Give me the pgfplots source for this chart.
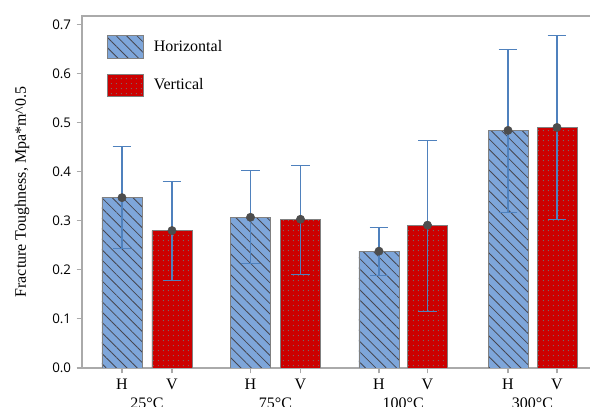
\documentclass[border=0pt,12pt]{standalone}
\usepackage{fontspec}
\setmainfont{Liberation Serif}
\newfontfamily\tickfont{Open Sans}
\usepackage{pgfplots}
\pgfplotsset{compat=1.18}
\usepackage{pgfplotstable}
\usetikzlibrary{patterns.meta}

\definecolor{hblue}{RGB}{126,166,218}
\definecolor{hatchgray}{RGB}{70,70,80}
\definecolor{vred}{RGB}{204,0,0}
\definecolor{dotgray}{RGB}{120,110,110}
\definecolor{errblue}{RGB}{79,129,189}
\definecolor{meangray}{RGB}{77,77,77}
\definecolor{axgray}{RGB}{170,170,170}
\definecolor{edgegray}{RGB}{128,128,128}

% mean, upper and lower error of each specimen orientation
\pgfplotstableread{
x    y     ep    em
0    0.347 0.105 0.104
2.57 0.307 0.096 0.094
5.14 0.238 0.049 0.050
7.72 0.484 0.165 0.168
}\Hdata
\pgfplotstableread{
x    y     ep    em
1    0.280 0.100 0.101
3.57 0.303 0.110 0.112
6.11 0.291 0.173 0.175
8.70 0.490 0.187 0.187
}\Vdata

\pgfplotsset{
  swatch/.style={legend image code/.code={\draw[##1] (0pt,-8.5pt) rectangle (27pt,8.5pt);}},
  errs/.style={error bars/.cd, y dir=both, y explicit,
    error bar style={errblue, line width=0.8pt},
    error mark options={rotate=90, errblue, mark size=7pt, line width=0.8pt}},
}

\begin{document}
\begin{tikzpicture}
\begin{axis}[
  at={(0,0)}, anchor=south west,
  scale only axis, width=388.5pt, height=264pt,
  xmin=-0.8, xmax=9.56, ymin=0, ymax=0.717,
  axis line style={axgray, line width=0.8pt},
  xtick pos=bottom, ytick pos=left, tick align=outside,
  major tick length=4pt,
  tick style={axgray, line width=0.8pt},
  xtick={0,1,2.57,3.57,5.14,6.11,7.72,8.70},
  xticklabels={H,V,H,V,H,V,H,V},
  xticklabel style={font=\fontsize{12}{14}\selectfont},
  extra x ticks={0.5,3.07,5.625,8.21},
  extra x tick labels={25°C,75°C,100°C,300°C},
  extra x tick style={major tick length=0pt, tick label style={yshift=-18pt}},
  ytick={0,0.1,0.2,0.3,0.4,0.5,0.6,0.7},
  yticklabel style={font=\tickfont\fontsize{10}{12}\selectfont,
    /pgf/number format/.cd, fixed, fixed zerofill, precision=1, assume math mode=true},
  every axis y label/.style={at={(rel axis cs:0,0.5)}, xshift=-45pt, rotate=90, anchor=center},
  ylabel={Fracture Toughness, Mpa*m\^{}0.5},
  ylabel style={font=\fontsize{12}{14}\selectfont},
  legend style={at={(0.0483,0.946)}, anchor=north west, draw=none, fill=none,
    inner sep=0pt, row sep=11.5pt, column sep=7.5pt,
    nodes={inner sep=0pt}, font=\fontsize{12}{14}\selectfont},
  legend cell align=left,
]
\addplot[ybar, bar width=0.8, bar shift=0pt, fill=hblue, draw=edgegray,
  postaction={pattern={Lines[angle=-45,distance=5.5pt,line width=0.6pt]}, pattern color=hatchgray},
  swatch, errs]
  table[x=x, y=y, y error plus=ep, y error minus=em] {\Hdata};
\addlegendentry{Horizontal}
\addplot[ybar, bar width=0.8, bar shift=0pt, fill=vred, draw=edgegray,
  postaction={pattern={Dots[distance=4pt,radius=0.5pt]}, pattern color=dotgray},
  swatch, errs]
  table[x=x, y=y, y error plus=ep, y error minus=em] {\Vdata};
\addlegendentry{Vertical}
\addplot[only marks, mark=*, mark size=3.1pt, color=meangray, forget plot]
  table[x=x, y=y] {\Hdata};
\addplot[only marks, mark=*, mark size=3.1pt, color=meangray, forget plot]
  table[x=x, y=y] {\Vdata};
\end{axis}
\pgfresetboundingbox
\path[use as bounding box] (-61.5pt,-29.25pt) rectangle (381pt,276pt);
\end{tikzpicture}
\end{document}
